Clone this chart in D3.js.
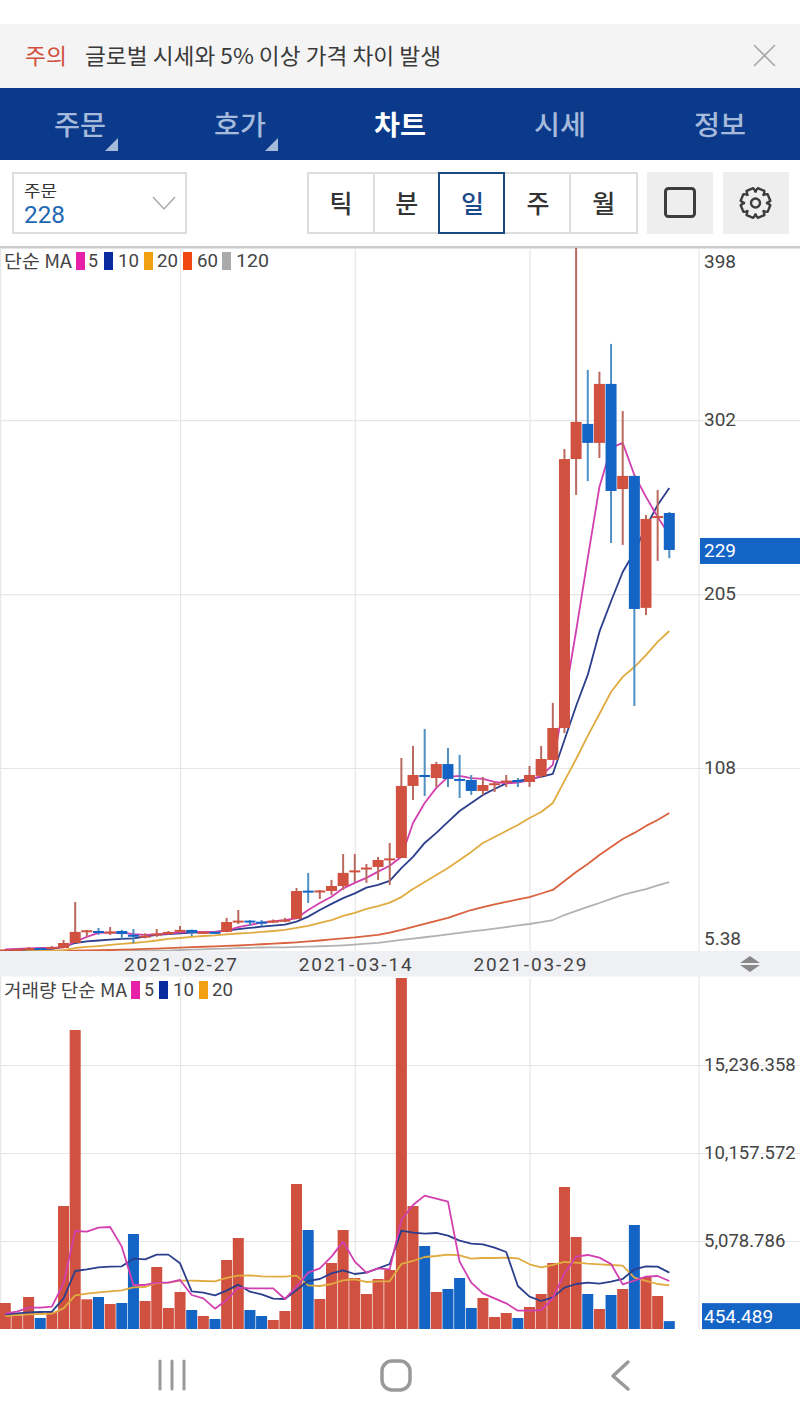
<!DOCTYPE html>
<html>
<head>
<meta charset="utf-8">
<script src="https://cdn.jsdelivr.net/npm/d3@7"></script>
<style>
  html, body { margin: 0; padding: 0; background: #fff; }
  svg { display: block; }
  text { font-family: "Noto Sans CJK KR", "Noto Sans", sans-serif; }
  text.num { font-family: Roboto, sans-serif; }
</style>
</head>
<body>
<div id="chart"></div>
<script>
'use strict';

/* candles, one per day from 2021-02-12 */
var firstDay = new Date(Date.UTC(2021, 1, 12))
var lastDay = new Date(Date.UTC(2021, 3, 10))
var days = d3.utcDay.range(firstDay, d3.utcDay.offset(lastDay, 1))

var opens = [6.5,6.8,7.1,7.6,7.1,7.6,10.4,17,17.1,16.3,17.1,15,14,15.2,15.4,16.6,17.7,16,16.6,16.6,22.4,22.9,22.3,22.4,23,23.8,39.6,39.2,39.4,42.2,50.3,51.9,52.8,57,57.8,98,104.1,102.4,110.2,101.9,101.3,95.2,99,100.5,101.3,100.2,103.6,112.5,130.3,280.3,299.9,289.3,322.2,263.6,270.9,197.3,247.5,250.2]
var closes = [6.8,7.1,7.6,7.1,8.2,10.4,16.6,17.5,16.6,16.8,15.4,14.3,14.5,15.7,16.6,17.7,16,16.6,16,22.1,22.9,22.4,21.8,22.9,23.4,39.4,39.1,39.7,42.2,49.5,50.9,52.5,56.7,57.6,98,104.1,103,110.2,101.9,100.8,95.2,98.5,99.5,101,100.2,104.1,113,130.3,280.3,301,289.3,322.2,262.5,270.9,196.7,246.9,248.5,229.6]
var highs = [7,7.4,8.2,7.9,8.7,12.1,33.3,17.7,18.8,19.3,17.7,18.2,15.8,18.2,17.1,19.9,17.9,17.1,16.8,24.4,28.8,23.1,23.2,23.5,24.4,41.1,49.5,40,45.6,60,60,54.5,58.4,66.2,113.6,120.3,129.8,111.4,119.2,115.3,104.1,103,100.2,104.1,102.4,109.1,120.3,144.3,285.9,398,330,329,344.5,307.1,271,249.1,263,250.8]
var lows = [6.3,6.6,7,6.9,6.9,7.4,10.4,13.8,14.9,14.9,12.65,10.4,13,13.8,15.2,16,14.3,15.4,15.6,16.4,21,19.9,19.9,21.7,22,23.8,32.7,35,37.2,40,44.4,43.9,45.6,42.8,57.8,90.2,92.4,97.4,97.4,91.3,93,93,94.6,97.4,97.4,97.4,102.4,112.5,127.5,260.3,268,280.9,233.5,232.4,142.6,193.3,223.5,225]

/* price moving averages */
var priceMa5 = [6.8,7.1,7.4,7.6,7.7,8,11.1,13.8,16,16.2,16.2,15.4,14.9,15.2,15.7,16.3,16.6,16.6,16.6,17.3,19.2,20.5,21.7,22.5,23.1,24.2,28.8,32.7,36.2,40.9,43.9,46.7,50.2,53.5,58.5,77.3,88.5,96.9,103,103.6,102.4,101.9,100.2,99.4,99.8,101.3,103.6,109.7,146,184.4,225.1,264.7,286.5,289.3,271.4,259.2,248,238]
var priceMa10 = [6.5,6.6,6.8,7,7.2,8.2,10.4,11.3,11.8,12.3,12.7,13,13.9,14.9,15.4,15.8,16.2,16.4,16.6,17.3,18.1,18.8,19.5,20.1,20.6,22.3,25.1,28.8,32.2,35.4,38.1,41.3,42.8,45,52.2,58.4,66.2,71.8,77.9,84,88.5,93,96.3,99.4,100.8,101.9,103,104.7,123.6,142.6,159.9,183.9,201,217.3,228.5,242.4,254.7,264.2]
var priceMa20 = [6,6,6.1,6.1,6.2,6.4,7.6,8.2,8.7,9.3,9.9,10.4,11,11.8,12.7,13.2,13.8,14.3,14.6,15.2,15.7,16,16.6,17.1,17.7,18.8,19.9,21.6,23.2,25.5,27.2,29.4,31,32.9,36,40.5,44.4,48.3,52.2,56.7,61.2,66.2,69.5,72.9,76.2,80.1,83.5,88.5,100.8,113,125.9,138.1,150.4,158.8,164.3,171,178.3,184.4]
var priceMa60 = [5.7,5.8,5.8,5.9,6,6.1,6.2,6.3,6.4,6.5,6.7,6.9,7.1,7.3,7.5,7.8,8.1,8.3,8.5,8.8,9,9.3,9.7,10,10.4,10.8,11.3,11.8,12.4,13,13.5,14.2,14.9,16.2,17.7,19.4,21,22.7,24.4,26.6,28.8,30.4,31.9,33.3,34.7,36,38,40,45,50,54.5,59.5,64,68.4,71.8,75.7,79,82.9]
var priceMa120 = [5.6,5.6,5.6,5.7,5.7,5.7,5.8,5.8,5.8,5.9,5.9,6,6,6.1,6.2,6.5,6.7,6.9,7.1,7.3,7.5,7.7,7.9,8,8,8.2,8.4,8.6,8.8,9.1,9.5,10,10.5,11.3,12.1,12.8,13.6,14.4,15.2,16,16.9,17.6,18.4,19.3,20.2,21,22,23.2,26,28.3,30.5,32.7,35,37.2,38.9,40.5,42.5,44.4]

/* volume and its moving averages */
var volumes = [1500,780,1847,635,981,7098,17255,1714,1847,1443,1500,5482,1616,3578,1212,2135,1096,750,577,3982,5252,1096,750,519,1039,8368,5713,1731,3809,5713,2943,2020,2886,3405,20257,7098,4790,2135,2308,2943,1212,1789,693,923,635,1270,2020,3809,8195,5309,2020,1154,1962,2308,6002,3001,1904,454]
var volMa5 = [904,1000,1231,1231,1289,2636,5657,5618,5849,5887,4752,2540,2540,2674,2674,2828,1962,1770,1174,1674,2386,2347,2347,2347,1732,2443,3252,3502,4175,5041,3886,3252,3502,3444,6291,7157,7696,7523,7350,3886,2674,2059,1770,1481,1058,1058,1097,1770,3213,4175,4271,4117,3752,2578,2790,3021,3059,2771]
var volMa10 = [846,904,962,981,1000,1770,3348,3444,3559,3598,3617,4060,4021,4291,4291,3790,2174,2097,1943,2213,2559,2155,2001,1751,1732,2251,2771,2886,3213,3386,3175,3252,3502,3752,5676,5560,5503,5541,5387,5099,4925,4887,4695,4444,2482,1866,1616,1828,2386,2597,2674,2617,2732,2886,3444,3617,3598,3252]
var volMa20 = [750,808,846,866,885,1193,1943,2039,2116,2174,2232,2405,2424,2655,2674,2790,2790,2771,2751,2944,3078,3098,3040,3021,3021,3078,2520,2482,2597,2809,2867,2713,2751,2751,3752,3925,4156,4214,4291,4252,4060,4098,4098,4117,4079,3733,3559,3694,3867,3829,3771,3733,3694,3656,2963,2771,2597,2520]

/* axis ticks and labels */
var priceTicks = [398, 302, 205, 108, 5.38]
var priceGrid = [302, 205, 108]
var volTicks = [15236.358, 10157.572, 5078.786]
var dateTicks = [new Date(Date.UTC(2021, 1, 27)), new Date(Date.UTC(2021, 2, 14)), new Date(Date.UTC(2021, 2, 29))]
var lastPrice = 229.6
var lastPriceLabel = '229'
var lastVolume = 454.489
var lastVolumeLabel = '454.489'
var tabs = ['주문', '호가', '차트', '시세', '정보']
var periods = ['틱', '분', '일', '주', '월']

var C = {
  red: '#d0513f', blue: '#1464c6', redWick: '#b9695e', blueWick: '#4f8fc2',
  grid: '#e6e6e6', text: '#444',
  ma5: '#d23fae', ma10: '#2b3f8c', ma20: '#e0ab40', ma60: '#d9623f', ma120: '#b2b2b2'
}

var svg = d3.select('#chart').append('svg').attr('width', 800).attr('height', 1422)
svg.append('rect').attr('width', 800).attr('height', 1422).attr('fill', '#fff')

// CJK line box sits low with central baseline, so lift it a bit
function label(x, y, str, size, color, opts) {
  opts = opts || {}
  var t = svg.append('text').attr('x', x).attr('y', y - (opts.num ? 0 : 1.5)).attr('font-size', size)
    .attr('fill', color).attr('dominant-baseline', 'central').text(str)
  if (opts.num) t.attr('class', 'num')
  if (opts.anchor) t.attr('text-anchor', opts.anchor)
  if (opts.weight) t.attr('font-weight', opts.weight)
  if (opts.width) t.attr('textLength', opts.width).attr('lengthAdjust', opts.adjust || 'spacingAndGlyphs')
  return t
}

/* top banner */
svg.append('rect').attr('y', 24).attr('width', 800).attr('height', 64).attr('fill', '#f4f4f4')
label(25, 55, '주의', 22, '#d0513f', {width: 42})
label(85, 55, '글로벌 시세와 5% 이상 가격 차이 발생', 22, '#3a3a3a', {width: 356})
svg.append('path').attr('d', 'M754,45L775,66M775,45L754,66').attr('stroke', '#aaa').attr('stroke-width', 1.6).attr('fill', 'none')

/* nav tabs */
svg.append('rect').attr('y', 88).attr('width', 800).attr('height', 72).attr('fill', '#0b3a8a')
tabs.forEach(function(d, i) {
  var on = i === 2
  label(80 + i * 160, 125, d, 27, on ? '#fff' : '#a6bbdc', {anchor: 'middle', weight: on ? 700 : 500, width: 52})
})
;[118, 278].forEach(function(x) {
  svg.append('path').attr('d', 'M' + x + ',138L' + x + ',151L' + (x - 13) + ',151Z').attr('fill', '#a6bbdc')
})

/* toolbar */
svg.append('rect').attr('x', 13).attr('y', 173).attr('width', 173).attr('height', 60)
  .attr('fill', '#fff').attr('stroke', '#ddd').attr('stroke-width', 2)
label(24, 191, '주문', 16, '#333', {width: 33})
label(24, 215, '228', 24, '#1f68b4', {width: 41, num: true})
svg.append('path').attr('d', 'M153,197L164,209L175,197').attr('stroke', '#aaa').attr('stroke-width', 1.5).attr('fill', 'none')

svg.append('rect').attr('x', 308).attr('y', 173).attr('width', 329).attr('height', 60)
  .attr('fill', '#fff').attr('stroke', '#ddd').attr('stroke-width', 2)
;[374, 570].forEach(function(x) {
  svg.append('line').attr('x1', x).attr('x2', x).attr('y1', 173).attr('y2', 233).attr('stroke', '#ddd').attr('stroke-width', 2)
})
svg.append('rect').attr('x', 439).attr('y', 173).attr('width', 65).attr('height', 60)
  .attr('fill', '#fff').attr('stroke', '#1b4a80').attr('stroke-width', 2)
periods.forEach(function(d, i) {
  label(341 + i * 65.7, 203, d, 25, i === 2 ? '#1b4a8a' : '#333', {anchor: 'middle', weight: 500})
})
svg.append('rect').attr('x', 647).attr('y', 172).attr('width', 66).attr('height', 62).attr('fill', '#eee')
svg.append('rect').attr('x', 665.5).attr('y', 188.5).attr('width', 29).attr('height', 28).attr('rx', 3)
  .attr('fill', 'none').attr('stroke', '#3d3d3d').attr('stroke-width', 3)
svg.append('rect').attr('x', 723).attr('y', 172).attr('width', 66).attr('height', 62).attr('fill', '#eee')

var gear = svg.append('g').attr('transform', 'translate(755.5,203)')
var gearPts = []
d3.range(8).forEach(function(i) {
  var a = i * Math.PI / 4 + Math.PI / 8
  var s = 0.24, t = 0.42
  gearPts.push([11.5 * Math.cos(a - t), 11.5 * Math.sin(a - t)])
  gearPts.push([15 * Math.cos(a - s), 15 * Math.sin(a - s)])
  gearPts.push([15 * Math.cos(a + s), 15 * Math.sin(a + s)])
  gearPts.push([11.5 * Math.cos(a + t), 11.5 * Math.sin(a + t)])
})
gear.append('path').attr('d', d3.line().curve(d3.curveLinearClosed)(gearPts))
  .attr('fill', 'none').attr('stroke', '#3d3d3d').attr('stroke-width', 2.4).attr('stroke-linejoin', 'round')
gear.append('circle').attr('r', 4.5).attr('fill', 'none').attr('stroke', '#3d3d3d').attr('stroke-width', 2.4)

/* scales */
var x = d3.scaleUtc().domain([firstDay, lastDay]).range([5.3, 669.3])
var yPrice = d3.scaleLinear().domain([5.38, 398]).range([952, 248])
var yVol = d3.scaleLinear().domain([0, 20257]).range([1329, 978])

/* frame and grid */
svg.append('rect').attr('y', 246).attr('width', 800).attr('height', 2.5).attr('fill', '#ccc')
svg.append('rect').attr('y', 951).attr('width', 800).attr('height', 25.5).attr('fill', '#eff0f4')

function styleGrid(g) {
  g.select('.domain').remove()
  g.selectAll('line').attr('stroke', C.grid).attr('stroke-width', 1.2)
  g.selectAll('text').remove()
}
svg.append('g').attr('transform', 'translate(0,951)')
  .call(d3.axisBottom(x).tickValues(dateTicks).tickSize(-703)).call(styleGrid)
svg.append('g').attr('transform', 'translate(0,1329)')
  .call(d3.axisBottom(x).tickValues(dateTicks).tickSize(-351)).call(styleGrid)
svg.append('g').attr('transform', 'translate(699,0)')
  .call(d3.axisLeft(yPrice).tickValues(priceGrid).tickSize(699)).call(styleGrid)
svg.append('g').attr('transform', 'translate(699,0)')
  .call(d3.axisRight(yPrice).tickValues(priceGrid).tickSize(101)).call(styleGrid)
svg.append('g').attr('transform', 'translate(699,0)')
  .call(d3.axisLeft(yVol).tickValues(volTicks).tickSize(699)).call(styleGrid)
svg.append('g').attr('transform', 'translate(699,0)')
  .call(d3.axisRight(yVol).tickValues(volTicks).tickSize(101)).call(styleGrid)
;[[248, 951], [976.5, 1329]].forEach(function(r) {
  ;[0.6, 699].forEach(function(px) {
    svg.append('line').attr('x1', px).attr('x2', px).attr('y1', r[0]).attr('y2', r[1])
      .attr('stroke', C.grid).attr('stroke-width', 1.2)
  })
})

svg.append('clipPath').attr('id', 'pricePane').append('rect').attr('y', 248).attr('width', 699).attr('height', 703)
svg.append('clipPath').attr('id', 'volPane').append('rect').attr('y', 978).attr('width', 699).attr('height', 351)

/* price pane */
var pricePane = svg.append('g').attr('clip-path', 'url(#pricePane)')
var priceLine = d3.line().x(function(d, i) { return x(days[i]) }).y(function(d) { return yPrice(d) })

;[[priceMa120, C.ma120], [priceMa60, C.ma60], [priceMa20, C.ma20], [priceMa10, C.ma10], [priceMa5, C.ma5]].forEach(function(s) {
  pricePane.append('path').attr('d', priceLine(s[0])).attr('fill', 'none')
    .attr('stroke', s[1]).attr('stroke-width', 1.8).attr('stroke-linejoin', 'round')
})

function isUp(i) { return closes[i] >= opens[i] }
var bodyW = 11

pricePane.selectAll('.wick').data(days).enter().append('line').attr('class', 'wick')
  .attr('x1', function(d) { return x(d) }).attr('x2', function(d) { return x(d) })
  .attr('y1', function(d, i) { return yPrice(highs[i]) })
  .attr('y2', function(d, i) { return yPrice(lows[i]) })
  .attr('stroke', function(d, i) { return isUp(i) ? C.redWick : C.blueWick })
  .attr('stroke-width', 2)

pricePane.selectAll('.body').data(days).enter().append('rect').attr('class', 'body')
  .attr('x', function(d) { return x(d) - bodyW / 2 })
  .attr('width', bodyW)
  .attr('y', function(d, i) { return yPrice(Math.max(opens[i], closes[i])) })
  .attr('height', function(d, i) { return Math.max(2, Math.abs(yPrice(opens[i]) - yPrice(closes[i]))) })
  .attr('fill', function(d, i) { return isUp(i) ? C.red : C.blue })

/* volume pane */
var volPane = svg.append('g').attr('clip-path', 'url(#volPane)')
var volLine = d3.line().x(function(d, i) { return x(days[i]) }).y(function(d) { return yVol(d) })

volPane.selectAll('.vol').data(days).enter().append('rect').attr('class', 'vol')
  .attr('x', function(d) { return x(d) - bodyW / 2 })
  .attr('width', bodyW)
  .attr('y', function(d, i) { return yVol(volumes[i]) })
  .attr('height', function(d, i) { return yVol(0) - yVol(volumes[i]) })
  .attr('fill', function(d, i) { return isUp(i) ? C.red : C.blue })

;[[volMa20, C.ma20], [volMa10, C.ma10], [volMa5, C.ma5]].forEach(function(s) {
  volPane.append('path').attr('d', volLine(s[0])).attr('fill', 'none')
    .attr('stroke', s[1]).attr('stroke-width', 1.8).attr('stroke-linejoin', 'round')
})

/* axis labels */
function styleLabels(size) {
  return function(g) {
    g.select('.domain').remove()
    g.selectAll('line').remove()
    g.selectAll('text').attr('class', 'num').attr('font-size', size).attr('fill', C.text)
    g.attr('font-family', null)
  }
}
svg.append('g').attr('transform', 'translate(704,0)')
  .call(d3.axisRight(yPrice).tickValues(priceTicks).tickSize(0).tickPadding(0)
    .tickFormat(function(d) { return d3.format('.3~r')(d) }))
  .call(styleLabels(19))
  .selectAll('text').attr('dy', function(d) { return d === 398 ? 13 : d === 5.38 ? -14 : -1 }).attr('dominant-baseline', 'central')
svg.append('g').attr('transform', 'translate(704,0)')
  .call(d3.axisRight(yVol).tickValues(volTicks).tickSize(0).tickPadding(0)
    .tickFormat(d3.format(',.3f')))
  .call(styleLabels(18.5))
  .selectAll('text').attr('dy', 0).attr('dominant-baseline', 'central')
svg.append('g').attr('transform', 'translate(0,951)')
  .call(d3.axisBottom(x).tickValues(dateTicks).tickSize(0).tickPadding(0)
    .tickFormat(d3.utcFormat('%Y-%m-%d')))
  .call(styleLabels(19))
  .selectAll('text').attr('dy', 0).attr('y', 13).attr('dominant-baseline', 'central')
  .attr('textLength', 113).attr('lengthAdjust', 'spacing')

/* last value flags */
svg.append('rect').attr('x', 700).attr('y', yPrice(lastPrice) - 12).attr('width', 100).attr('height', 26).attr('fill', C.blue)
label(704, yPrice(lastPrice) + 1, lastPriceLabel, 19, '#fff', {num: true})
svg.append('rect').attr('x', 702).attr('y', yVol(lastVolume) - 18).attr('width', 98).attr('height', 26).attr('fill', C.blue)
label(704, yVol(lastVolume) - 5, lastVolumeLabel, 19, '#fff', {num: true})

/* resize handle */
svg.append('path').attr('d', 'M740,963L750,956L760,963ZM740,965L750,972L760,965Z').attr('fill', '#888')

/* legends */
function legend(y, items) {
  items.forEach(function(d) {
    svg.append('rect').attr('x', d[0]).attr('y', y - 9).attr('width', 9).attr('height', 18).attr('fill', d[1])
    label(d[2], y, d[3], 18.5, C.text, {width: d[4], num: true})
  })
}
label(4, 261, '단순 MA', 18.5, C.text, {width: 68})
legend(261, [[76, '#e620a8', 88, '5', 10], [104, '#0a2aa0', 118, '10', 21], [144, '#f0a010', 157, '20', 21], [183, '#f04810', 197, '60', 21], [222, '#aaa', 236, '120', 33]])
label(4, 990, '거래량 단순 MA', 18.5, C.text, {width: 123})
legend(990, [[131, '#e620a8', 144, '5', 10], [159, '#0a2aa0', 173, '10', 21], [199, '#f0a010', 212, '20', 21]])

/* phone nav bar */
;[160, 172, 184].forEach(function(px) {
  svg.append('line').attr('x1', px).attr('x2', px).attr('y1', 1361).attr('y2', 1389)
    .attr('stroke', '#999').attr('stroke-width', 3).attr('stroke-linecap', 'round')
})
svg.append('rect').attr('x', 382).attr('y', 1361).attr('width', 28).attr('height', 29).attr('rx', 10)
  .attr('fill', 'none').attr('stroke', '#999').attr('stroke-width', 3.5)
svg.append('path').attr('d', 'M628,1362L613,1376L628,1389').attr('fill', 'none').attr('stroke', '#999')
  .attr('stroke-width', 3.5).attr('stroke-linecap', 'round').attr('stroke-linejoin', 'round')
</script>
</body>
</html>
